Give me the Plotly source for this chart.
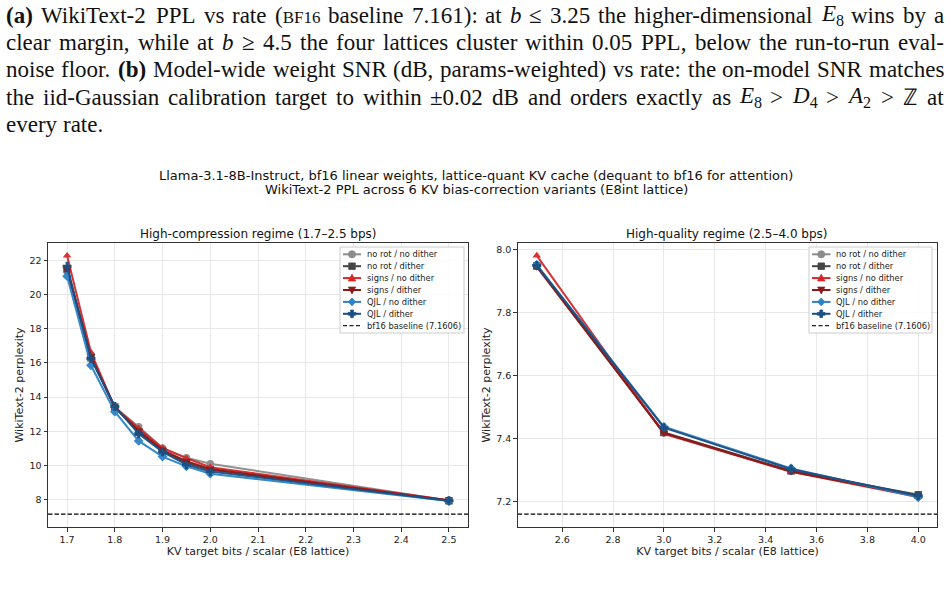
import plotly.graph_objects as go

W, H = 951, 589

# ---------------- data ----------------
series_names = ["no rot / no dither", "no rot / dither", "signs / no dither",
                "signs / dither", "QJL / no dither", "QJL / dither"]
series_colors = ["#8c8c8c", "#454545", "#d62728", "#8b1a1a", "#2b83c6", "#1b4f82"]
series_symbols = ["circle", "square", "triangle-up", "triangle-down", "diamond", "cross"]

bits_low = [1.7, 1.75, 1.8, 1.85, 1.9, 1.95, 2.0, 2.5]
ppl_low = [
    [21.35, 16.35, 13.40, 12.27, 11.03, 10.45, 10.10, 7.96],   # no rot / no dither
    [21.50, 16.30, 13.42, 11.95, 10.85, 10.15, 9.75, 7.94],    # no rot / dither
    [22.27, 16.62, 13.40, 12.18, 11.02, 10.43, 9.90, 7.97],    # signs / no dither
    [21.45, 16.40, 13.38, 12.05, 10.90, 10.25, 9.80, 7.95],    # signs / dither
    [21.07, 15.86, 13.15, 11.44, 10.52, 9.95, 9.52, 7.93],     # QJL / no dither
    [21.65, 16.25, 13.45, 11.85, 10.80, 10.05, 9.65, 7.94],    # QJL / dither
]

bits_high = [2.5, 3.0, 3.5, 4.0]
ppl_high = [
    [7.950, 7.418, 7.297, 7.220],
    [7.948, 7.420, 7.298, 7.222],
    [7.981, 7.415, 7.295, 7.215],
    [7.945, 7.418, 7.296, 7.218],
    [7.952, 7.438, 7.306, 7.214],
    [7.950, 7.435, 7.303, 7.219],
]

baseline = 7.1606
baseline_label = "bf16 baseline (7.1606)"

x_range_low = [1.66, 2.54]
x_range_high = [2.425, 4.075]
y_range_low = [6.405, 23.01]
y_range_high = [7.12, 8.021]

suptitle_lines = ["Llama-3.1-8B-Instruct, bf16 linear weights, lattice-quant KV cache (dequant to bf16 for attention)",
                  "WikiText-2 PPL across 6 KV bias-correction variants (E8int lattice)"]
panel_titles = ["High-compression regime (1.7–2.5 bps)", "High-quality regime (2.5–4.0 bps)"]
x_title = "KV target bits / scalar (E8 lattice)"
y_title = "WikiText-2 perplexity"

# caption (markup: "b:" bold, "i:" italic, "s:" subscript, "c:" small caps, "|" joins segments)
caption_lines = [
    "b:(a) WikiText-2 PPL vs rate (|c:BF16 baseline 7.161): at i:b ≤ 3.25 the higher-dimensional i:E|s:8 wins by a",
    "clear margin, while at i:b ≥ 4.5 the four lattices cluster within 0.05 PPL, below the run-to-run eval-",
    "noise floor. b:(b) Model-wide weight SNR (dB, params-weighted) vs rate: the on-model SNR matches",
    "the iid-Gaussian calibration target to within ±0.02 dB and orders exactly as i:E|s:8 > i:D|s:4 > i:A|s:2 > ℤ at",
    "every rate.",
]
caption_justify = [True, True, True, True, False]
caption_y = [15, 42, 69, 97, 124]

# ---------------- helpers ----------------
def px(x):
    return x / W

def py(y):
    return 1 - y / H

TIMES = {' ': 250, 'a': 444, 'b': 500, 'c': 444, 'd': 500, 'e': 444, 'f': 333, 'g': 500, 'h': 500,
         'i': 278, 'j': 278, 'k': 500, 'l': 278, 'm': 778, 'n': 500, 'o': 500, 'p': 500, 'q': 500,
         'r': 333, 's': 389, 't': 278, 'u': 500, 'v': 500, 'w': 722, 'x': 500, 'y': 500, 'z': 444,
         'A': 722, 'B': 667, 'C': 667, 'D': 722, 'E': 611, 'F': 556, 'G': 722, 'H': 722, 'I': 333,
         'J': 389, 'K': 722, 'L': 611, 'M': 889, 'N': 722, 'O': 722, 'P': 556, 'Q': 722, 'R': 667,
         'S': 556, 'T': 611, 'U': 722, 'V': 722, 'W': 944, 'X': 722, 'Y': 722, 'Z': 611,
         '.': 250, ',': 250, ':': 278, '(': 333, ')': 333, '-': 333, '>': 564, '≤': 549, '≥': 549,
         '±': 564, 'ℤ': 700, '/': 278}

CAP_SIZE = 23
SUB_F = 0.7
SC_SIZE = 17
DASH = "4.5px,2px"

def seg_width(text, kind):
    f = 1.0
    if kind == 's':
        f = SUB_F
    elif kind == 'c':
        f = SC_SIZE / CAP_SIZE
    w = sum(TIMES.get(ch, 500) for ch in text) / 1000.0 * CAP_SIZE * f
    if kind == 'b':
        w *= 1.06
    return w

def word_markup(word):
    html, width = "", 0.0
    for part in word.split('|'):
        kind = 'r'
        if len(part) > 2 and part[1] == ':' and part[0] in 'bisc':
            kind, part = part[0], part[2:]
        width += seg_width(part, kind)
        t = part.replace('>', '&gt;').replace('<', '&lt;')
        if kind == 'b':
            t = "<b>" + t + "</b>"
        elif kind == 'i':
            t = "<i>" + t + "</i>"
        elif kind == 's':
            t = "<sub>" + t + "</sub>"
        elif kind == 'c':
            t = "<span style='font-size:%dpx'>%s</span>" % (SC_SIZE, t)
        html += t
    return html, width

fig = go.Figure()

# ---------------- traces ----------------
for i, name in enumerate(series_names):
    fig.add_trace(go.Scatter(
        x=bits_low, y=ppl_low[i], mode="lines+markers", name=name, showlegend=False,
        line=dict(color=series_colors[i], width=2),
        marker=dict(symbol=series_symbols[i], size=7.5, color=series_colors[i]),
        xaxis="x", yaxis="y", opacity=0.95))
fig.add_trace(go.Scatter(
    x=x_range_low, y=[baseline, baseline], mode="lines", name=baseline_label, showlegend=False,
    line=dict(color="black", width=1.2, dash=DASH), xaxis="x", yaxis="y"))

for i, name in enumerate(series_names):
    fig.add_trace(go.Scatter(
        x=bits_high, y=ppl_high[i], mode="lines+markers", name=name, showlegend=False,
        line=dict(color=series_colors[i], width=2),
        marker=dict(symbol=series_symbols[i], size=7.5, color=series_colors[i]),
        xaxis="x2", yaxis="y2", opacity=0.95))
fig.add_trace(go.Scatter(
    x=x_range_high, y=[baseline, baseline], mode="lines", name=baseline_label, showlegend=False,
    line=dict(color="black", width=1.2, dash=DASH), xaxis="x2", yaxis="y2"))

axis_common = dict(
    showline=True, mirror=True, linecolor="#333333", linewidth=1,
    showgrid=True, gridcolor="#e8e8e8", gridwidth=1, zeroline=False,
    ticks="outside", ticklen=3.5, tickcolor="#333333",
    tickfont=dict(family="DejaVu Sans", size=9.5, color="#222222"),
)
xt = dict(text=x_title, font=dict(size=11, family="DejaVu Sans"), standoff=3)
ytt = dict(text=y_title, font=dict(size=11, family="DejaVu Sans"), standoff=3)

yd = [py(527), py(243)]
fig.update_layout(
    width=W, height=H, margin=dict(l=0, r=0, t=0, b=0),
    paper_bgcolor="white", plot_bgcolor="white", showlegend=False,
    font=dict(family="DejaVu Sans", color="#222222"),
    xaxis=dict(domain=[px(48), px(468)], range=x_range_low, dtick=0.1, tick0=1.7,
               tickformat=".1f", anchor="y", title=xt, **axis_common),
    yaxis=dict(domain=yd, range=y_range_low, dtick=2, tick0=8, anchor="x",
               title=ytt, **axis_common),
    xaxis2=dict(domain=[px(517.7), px(937.3)], range=x_range_high, dtick=0.2, tick0=2.6,
                tickformat=".1f", anchor="y2", title=xt, **axis_common),
    yaxis2=dict(domain=yd, range=y_range_high, dtick=0.2, tick0=7.2, tickformat=".1f",
                anchor="x2", title=ytt, **axis_common),
)

# ---------------- titles ----------------
for t, yy in zip(suptitle_lines, [175, 189.3]):
    fig.add_annotation(xref="paper", yref="paper", showarrow=False, x=px(476), y=py(yy),
                       xanchor="center", yanchor="middle", text=t,
                       font=dict(size=13, family="DejaVu Sans", color="#111111"))
for t, xx in zip(panel_titles, [258, 727]):
    fig.add_annotation(xref="paper", yref="paper", showarrow=False, x=px(xx), y=py(234),
                       xanchor="center", yanchor="middle", text=t,
                       font=dict(size=12, family="DejaVu Sans", color="#111111"))

# ---------------- legends (one per panel, matplotlib style) ----------------
def marker_shape(sym, cx, cy, color, r=3.6):
    common = dict(xref="paper", yref="paper", fillcolor=color, line=dict(color=color, width=0.8))
    if sym == "circle":
        return dict(type="circle", x0=px(cx - r), x1=px(cx + r), y0=py(cy + r), y1=py(cy - r), **common)
    if sym == "square":
        return dict(type="rect", x0=px(cx - r * 0.9), x1=px(cx + r * 0.9),
                    y0=py(cy + r * 0.9), y1=py(cy - r * 0.9), **common)
    if sym == "triangle-up":
        pts = [(cx, cy - r * 1.1), (cx + r, cy + r * 0.8), (cx - r, cy + r * 0.8)]
    elif sym == "triangle-down":
        pts = [(cx, cy + r * 1.1), (cx + r, cy - r * 0.8), (cx - r, cy - r * 0.8)]
    elif sym == "diamond":
        pts = [(cx, cy - r * 1.1), (cx + r * 1.0, cy), (cx, cy + r * 1.1), (cx - r * 1.0, cy)]
    else:  # filled plus
        a, b = r * 1.05, r * 0.38
        pts = [(cx - b, cy - a), (cx + b, cy - a), (cx + b, cy - b), (cx + a, cy - b), (cx + a, cy + b),
               (cx + b, cy + b), (cx + b, cy + a), (cx - b, cy + a), (cx - b, cy + b), (cx - a, cy + b),
               (cx - a, cy - b), (cx - b, cy - b)]
    path = "M " + " L ".join("%.5f,%.5f" % (px(x), py(y)) for x, y in pts) + " Z"
    return dict(type="path", path=path, **common)


def add_legend(box, lx0, lx1, tx, y0, dy):
    fig.add_shape(type="rect", xref="paper", yref="paper",
                  x0=px(box[0]), x1=px(box[2]), y0=py(box[3]), y1=py(box[1]),
                  fillcolor="rgba(255,255,255,0.85)", line=dict(color="#cccccc", width=1))
    for i, name in enumerate(series_names + [baseline_label]):
        y = y0 + i * dy
        if i < len(series_names):
            fig.add_shape(type="line", xref="paper", yref="paper", x0=px(lx0), x1=px(lx1),
                          y0=py(y), y1=py(y), line=dict(color=series_colors[i], width=2))
            fig.add_shape(marker_shape(series_symbols[i], (lx0 + lx1) / 2, y, series_colors[i]))
        else:
            fig.add_shape(type="line", xref="paper", yref="paper", x0=px(lx0), x1=px(lx1),
                          y0=py(y), y1=py(y), line=dict(color="#222222", width=1.2, dash="4px,2.5px"))
        fig.add_annotation(xref="paper", yref="paper", showarrow=False, x=px(tx - 2), y=py(y),
                           xanchor="left", yanchor="middle", text=name,
                           font=dict(size=8.3, family="DejaVu Sans", color="#222222"))


add_legend((340, 247, 464, 333), 343, 361, 366.5, 254.3, 11.9)
add_legend((809, 247, 932, 333), 812, 830.5, 836, 254.3, 11.9)

# ---------------- caption (justified) ----------------
cap_font = dict(family="Liberation Serif", size=CAP_SIZE, color="#111111")
LEFT, RIGHT = 6, 944
for line, just, yy in zip(caption_lines, caption_justify, caption_y):
    words = [word_markup(w) for w in line.split(' ')]
    total = sum(w for _, w in words)
    if just and len(words) > 1:
        gap = (RIGHT - LEFT - total) / (len(words) - 1)
    else:
        gap = TIMES[' '] / 1000.0 * CAP_SIZE
    x = LEFT
    for html, w in words:
        fig.add_annotation(xref="paper", yref="paper", showarrow=False, x=px(x - 2), y=py(yy),
                           xanchor="left", yanchor="middle", text=html, font=cap_font)
        x += w + gap

fig.write_html("out.html")
